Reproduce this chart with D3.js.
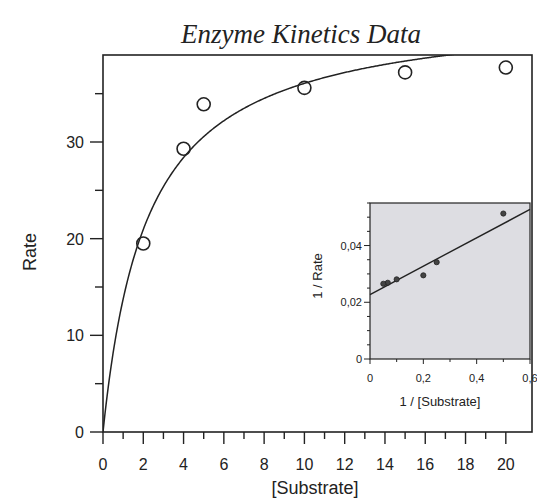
<!DOCTYPE html>
<html>
<head>
<meta charset="utf-8">
<script src="https://cdn.jsdelivr.net/npm/d3@7"></script>
<style>
  body { margin: 0; background: #fff; }
  text { font-family: "Liberation Sans", Arial, sans-serif; fill: #222; }
</style>
</head>
<body>
<div id="chart"></div>
<script>
// data
const substrate = [2, 4, 5, 10, 15, 20]
const rate = [19.5, 29.3, 33.9, 35.6, 37.2, 37.7]
// fitted Michaelis-Menten parameters
const vmax = 44
const km = 2.2
const xTicksMain = [0, 2, 4, 6, 8, 10, 12, 14, 16, 18, 20]
const yTicksMain = [0, 10, 20, 30]
const xTicksInset = [0, 0.2, 0.4, 0.6]
const yTicksInset = [0, 0.02, 0.04]

const points = substrate.map((s, i) => ({ s: s, v: rate[i] }))

const svg = d3.select("#chart").append("svg")
  .attr("width", 537)
  .attr("height", 499)

// title
svg.append("text")
  .attr("x", 301).attr("y", 43)
  .attr("text-anchor", "middle")
  .style("font-family", "'Liberation Serif', 'Times New Roman', serif")
  .style("font-style", "italic")
  .style("font-size", "27px")
  .text("Enzyme Kinetics Data")

// main plot
const x = d3.scaleLinear().domain([0, 21.3]).range([103, 532])
const y = d3.scaleLinear().domain([0, 39]).range([432, 55])

const main = svg.append("g")

main.append("rect")
  .attr("x", x(0)).attr("y", y(39))
  .attr("width", x(21.3) - x(0)).attr("height", y(0) - y(39))
  .attr("fill", "none").attr("stroke", "#222").attr("stroke-width", 1.6)

main.append("clipPath").attr("id", "clipMain")
  .append("rect")
  .attr("x", x(0)).attr("y", y(39))
  .attr("width", x(21.3) - x(0)).attr("height", y(0) - y(39))

// x axis ticks (major even, minor odd)
const xAll = d3.range(0, 21, 1)
main.selectAll(".xt").data(xAll).join("line")
  .attr("x1", d => x(d)).attr("x2", d => x(d))
  .attr("y1", y(0)).attr("y2", d => y(0) + (d % 2 === 0 ? 12 : 7))
  .attr("stroke", "#222").attr("stroke-width", 1.4)
main.selectAll(".xl").data(xTicksMain).join("text")
  .attr("x", d => x(d)).attr("y", 470)
  .attr("text-anchor", "middle")
  .style("font-size", "16px")
  .text(d => d)

const yAll = d3.range(0, 40, 5)
main.selectAll(".yt").data(yAll).join("line")
  .attr("x1", d => x(0) - (d % 10 === 0 ? 13 : 8)).attr("x2", x(0))
  .attr("y1", d => y(d)).attr("y2", d => y(d))
  .attr("stroke", "#222").attr("stroke-width", 1.4)
main.selectAll(".yl").data(yTicksMain).join("text")
  .attr("x", 84).attr("y", d => y(d) + 6)
  .attr("text-anchor", "end")
  .style("font-size", "16px")
  .text(d => d)

main.append("text")
  .attr("x", 315).attr("y", 494)
  .attr("text-anchor", "middle")
  .style("font-size", "18px")
  .text("[Substrate]")
main.append("text")
  .attr("transform", "translate(36,252) rotate(-90)")
  .attr("text-anchor", "middle")
  .style("font-size", "18px")
  .text("Rate")

// fitted curve
const curveS = d3.range(0, 21.31, 0.05)
main.append("path")
  .datum(curveS)
  .attr("clip-path", "url(#clipMain)")
  .attr("fill", "none").attr("stroke", "#222").attr("stroke-width", 1.5)
  .attr("d", d3.line().x(d => x(d)).y(d => y(vmax * d / (km + d))))

main.selectAll(".pt").data(points).join("circle")
  .attr("cx", d => x(d.s)).attr("cy", d => y(d.v))
  .attr("r", 6.5)
  .attr("fill", "none").attr("stroke", "#222").attr("stroke-width", 1.6)

// inset: Lineweaver-Burk
const xi = d3.scaleLinear().domain([0, 0.6]).range([370, 530])
const yi = d3.scaleLinear().domain([0, 0.055]).range([359, 203])
const inset = svg.append("g")

inset.append("rect")
  .attr("x", xi(0)).attr("y", yi(0.055))
  .attr("width", xi(0.6) - xi(0)).attr("height", yi(0) - yi(0.055))
  .attr("fill", "#dddde2").attr("stroke", "#222").attr("stroke-width", 1.2)

inset.selectAll(".xt").data(d3.range(0, 0.61, 0.1)).join("line")
  .attr("x1", d => xi(d)).attr("x2", d => xi(d))
  .attr("y1", yi(0)).attr("y2", (d, i) => yi(0) + (i % 2 === 0 ? 5 : 3))
  .attr("stroke", "#222").attr("stroke-width", 1)
inset.selectAll(".xl").data(xTicksInset).join("text")
  .attr("x", d => xi(d)).attr("y", 382)
  .attr("text-anchor", "middle")
  .style("font-size", "11px")
  .text(d => d3.format("~g")(d).replace(".", ","))

inset.selectAll(".yt").data(d3.range(0, 0.0551, 0.005)).join("line")
  .attr("x1", (d, i) => xi(0) - (i % 4 === 0 ? 6 : 3)).attr("x2", xi(0))
  .attr("y1", d => yi(d)).attr("y2", d => yi(d))
  .attr("stroke", "#222").attr("stroke-width", 1)
inset.selectAll(".yl").data(yTicksInset).join("text")
  .attr("x", 362).attr("y", d => yi(d) + 4)
  .attr("text-anchor", "end")
  .style("font-size", "11px")
  .text(d => d3.format("~g")(d).replace(".", ","))

inset.append("text")
  .attr("x", 440).attr("y", 406)
  .attr("text-anchor", "middle")
  .style("font-size", "13px")
  .text("1 / [Substrate]")
inset.append("text")
  .attr("transform", "translate(322,276) rotate(-90)")
  .attr("text-anchor", "middle")
  .style("font-size", "13px")
  .text("1 / Rate")

inset.append("line")
  .attr("x1", xi(0)).attr("y1", yi(1 / vmax))
  .attr("x2", xi(0.6)).attr("y2", yi(1 / vmax + km / vmax * 0.6))
  .attr("stroke", "#222").attr("stroke-width", 1.4)

inset.selectAll(".pt").data(points).join("circle")
  .attr("cx", d => xi(1 / d.s)).attr("cy", d => yi(1 / d.v))
  .attr("r", 2.6)
  .attr("fill", "#444").attr("stroke", "#222").attr("stroke-width", 0.8)
</script>
</body>
</html>
